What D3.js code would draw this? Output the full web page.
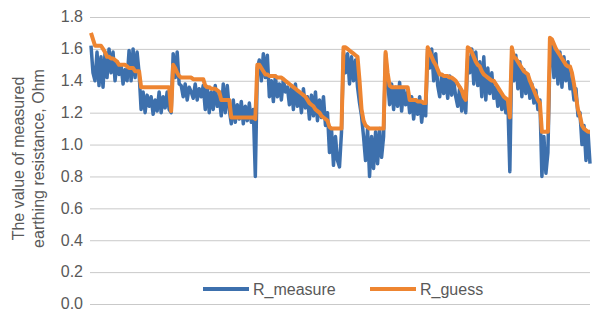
<!DOCTYPE html>
<html>
<head>
<meta charset="utf-8">
<script src="https://cdn.jsdelivr.net/npm/d3@7"></script>
<style>
	body { margin: 0; background: #fff; }
	svg { display: block; font-family: "Liberation Sans", Arial, sans-serif; }
	.tick text { fill: #595959; font-size: 16px; }
	.grid line { stroke: #c9c9c9; stroke-width: 1; }
</style>
</head>
<body>
<script>
var yTicks = [0, 0.2, 0.4, 0.6, 0.8, 1.0, 1.2, 1.4, 1.6, 1.8];
var seriesNames = ['R_measure', 'R_guess'];

// measured resistance, one sample every ~2px of the plot
var rMeasure = [
	1.62, 1.45,
	1.40, 1.58, 1.37, 1.55, 1.36, 1.57,
	1.42, 1.60, 1.45, 1.58, 1.40, 1.52,
	1.44, 1.50, 1.38, 1.47, 1.40, 1.59, 1.40, 1.60,
	1.42, 1.58, 1.45,
	1.22, 1.33, 1.20, 1.31, 1.24, 1.30, 1.19, 1.28, 1.21, 1.33, 1.20, 1.30, 1.23, 1.33, 1.22,
	1.20,
	1.57, 1.42, 1.58, 1.38,
	1.37, 1.30, 1.38, 1.28, 1.36, 1.33, 1.29, 1.38, 1.28, 1.35, 1.30, 1.37,
	1.22, 1.36, 1.20, 1.33, 1.22, 1.37, 1.24, 1.30,
	1.18, 1.38, 1.20, 1.37, 1.22,
	1.13, 1.28, 1.14, 1.25, 1.16, 1.27, 1.13, 1.24, 1.15, 1.26, 1.14, 1.22, 0.80,
	1.48, 1.53, 1.40, 1.57, 1.42, 1.56, 1.30,
	1.40, 1.27, 1.43, 1.30, 1.38, 1.28, 1.41, 1.33, 1.36,
	1.25, 1.36, 1.22, 1.38, 1.24, 1.32, 1.20, 1.35, 1.23, 1.30,
	1.16, 1.31, 1.18, 1.33, 1.15, 1.28, 1.17, 1.30, 1.12, 1.20,
	0.95, 1.10, 0.87, 1.05, 0.90, 0.86, 1.08,
	1.58, 1.45, 1.57, 1.38, 1.55, 1.40, 1.53, 1.36,
	1.26, 1.18, 1.05,
	0.90, 1.10, 0.80, 1.05, 0.85, 1.08, 0.88, 1.10, 0.92, 1.05,
	1.57, 1.40,
	1.25, 1.38, 1.22, 1.36, 1.24, 1.39, 1.21, 1.35, 1.25, 1.33,
	1.20, 1.30, 1.16, 1.28, 1.19, 1.30, 1.14, 1.26, 1.18,
	1.60,
	1.48, 1.60, 1.40, 1.57, 1.37,
	1.30, 1.44, 1.32, 1.42, 1.29, 1.43, 1.31, 1.40, 1.30,
	1.24, 1.36, 1.21, 1.33, 1.20,
	1.55,
	1.45, 1.60, 1.38, 1.58, 1.37, 1.52,
	1.30, 1.55, 1.28, 1.48, 1.32, 1.45, 1.29,
	1.36, 1.24, 1.33, 1.22, 1.30, 1.20, 1.27,
	0.83,
	1.58,
	1.40, 1.56, 1.35, 1.52, 1.30, 1.47, 1.32, 1.44,
	1.29, 1.38, 1.26, 1.34, 1.22, 1.28,
	0.80, 1.05, 0.82, 0.95,
	1.55, 1.62,
	1.42, 1.60, 1.38, 1.58, 1.36, 1.55, 1.40, 1.52, 1.35,
	1.40, 1.28, 1.35, 1.18, 1.20,
	1.00, 1.12, 0.90, 1.08, 0.88
];

// guessed resistance, same sampling
var rGuess = [
	1.70, 1.66,
	1.62, 1.62, 1.62, 1.62, 1.60, 1.58,
	1.55, 1.55, 1.54, 1.54, 1.53, 1.52,
	1.50, 1.50, 1.50, 1.50, 1.49, 1.48, 1.48, 1.48,
	1.46, 1.46, 1.46,
	1.36, 1.36, 1.36, 1.36, 1.36, 1.36, 1.36, 1.36, 1.36, 1.36, 1.36, 1.36, 1.36, 1.36, 1.36,
	1.21,
	1.50, 1.48, 1.45, 1.43,
	1.42, 1.42, 1.42, 1.42, 1.42, 1.42, 1.41, 1.41, 1.41, 1.41, 1.41, 1.41,
	1.37, 1.36, 1.36, 1.35, 1.35, 1.35, 1.34, 1.33,
	1.28, 1.28, 1.28, 1.28, 1.28,
	1.17, 1.17, 1.17, 1.17, 1.17, 1.17, 1.17, 1.17, 1.17, 1.17, 1.17, 1.17, 1.16,
	1.50, 1.50, 1.48, 1.46, 1.44, 1.44, 1.43,
	1.43, 1.43, 1.43, 1.42, 1.42, 1.42, 1.41, 1.40, 1.39,
	1.38, 1.37, 1.36, 1.35, 1.34, 1.33, 1.32, 1.31, 1.30, 1.28,
	1.26, 1.25, 1.24, 1.22, 1.21, 1.20, 1.18, 1.17, 1.16, 1.15,
	1.11, 1.10, 1.10, 1.10, 1.10, 1.10, 1.10,
	1.61, 1.61, 1.60, 1.59, 1.58, 1.57, 1.56, 1.55,
	1.40, 1.22, 1.15,
	1.12, 1.11, 1.10, 1.10, 1.10, 1.10, 1.10, 1.10, 1.10, 1.10,
	1.58, 1.45,
	1.37, 1.36, 1.36, 1.36, 1.36, 1.36, 1.36, 1.36, 1.36, 1.36,
	1.28, 1.28, 1.28, 1.28, 1.27, 1.27, 1.27, 1.26, 1.26,
	1.61,
	1.58, 1.55, 1.52, 1.50, 1.47,
	1.44, 1.44, 1.43, 1.43, 1.43, 1.42, 1.42, 1.41, 1.40,
	1.38, 1.36, 1.34, 1.30, 1.28,
	1.61,
	1.60, 1.58, 1.55, 1.52, 1.50, 1.49,
	1.46, 1.44, 1.43, 1.42, 1.41, 1.40, 1.40,
	1.38, 1.36, 1.34, 1.32, 1.30, 1.29, 1.28,
	1.17,
	1.61,
	1.55, 1.54, 1.52, 1.50, 1.48, 1.46, 1.45, 1.44,
	1.40, 1.37, 1.34, 1.31, 1.28, 1.26,
	1.08, 1.08, 1.08, 1.08,
	1.67, 1.66,
	1.63, 1.60, 1.58, 1.56, 1.54, 1.52, 1.50, 1.49, 1.49,
	1.45, 1.38, 1.30, 1.22, 1.18,
	1.12, 1.10, 1.09, 1.08, 1.08
];

var colors = ['#3d70ad', '#ee8531'];

var width = 593,
	height = 313,
	margin = { top: 17, right: 3, bottom: 9, left: 90 };

var svg = d3.select('body').append('svg')
	.attr('width', width)
	.attr('height', height);

var x = d3.scaleLinear()
	.domain([0, rMeasure.length - 1])
	.range([margin.left + 1, width - margin.right]);

var y = d3.scaleLinear()
	.domain([0, 1.8])
	.range([height - margin.bottom, margin.top]);

// gridlines + tick labels
var yAxis = svg.append('g')
	.attr('class', 'grid')
	.attr('transform', 'translate(' + margin.left + ',0)')
	.call(d3.axisLeft(y)
		.tickValues(yTicks)
		.tickSize(-(width - margin.left - margin.right))
		.tickPadding(7)
		.tickFormat(d3.format('.1f')));

yAxis.select('.domain').remove();
yAxis.selectAll('.tick text').attr('dy', '0.3em');

// axis title, two lines
var title = svg.append('text')
	.attr('transform', 'translate(24,' + (y(0.9) - 2) + ') rotate(-90)')
	.attr('text-anchor', 'middle')
	.style('font-size', '16px')
	.style('fill', '#595959');

title.append('tspan')
	.attr('x', 0)
	.attr('dy', 0)
	.text('The value of measured');

title.append('tspan')
	.attr('x', 0)
	.attr('dy', 20)
	.text('earthing resistance, Ohm');

var line = d3.line()
	.x(function (d, i) { return x(i); })
	.y(function (d) { return y(d); });

svg.append('path')
	.datum(rMeasure)
	.attr('d', line)
	.attr('fill', 'none')
	.attr('stroke', colors[0])
	.attr('stroke-width', 3.5)
	.attr('stroke-linejoin', 'round');

svg.append('path')
	.datum(rGuess)
	.attr('d', line)
	.attr('fill', 'none')
	.attr('stroke', colors[1])
	.attr('stroke-width', 4)
	.attr('stroke-linejoin', 'round');

// legend
var legendItems = [
	{ name: seriesNames[0], color: colors[0], x: 203 },
	{ name: seriesNames[1], color: colors[1], x: 370 }
];

var legend = svg.append('g')
	.selectAll('g')
	.data(legendItems)
	.enter().append('g')
		.attr('transform', function (d) { return 'translate(' + [d.x, 289] + ')'; });

legend.append('line')
	.attr('x1', 0)
	.attr('x2', 46)
	.attr('stroke', function (d) { return d.color; })
	.attr('stroke-width', 4);

legend.append('text')
	.attr('x', 50)
	.attr('y', 6)
	.style('font-size', '16px')
	.style('fill', '#595959')
	.text(function (d) { return d.name; });
</script>
</body>
</html>
